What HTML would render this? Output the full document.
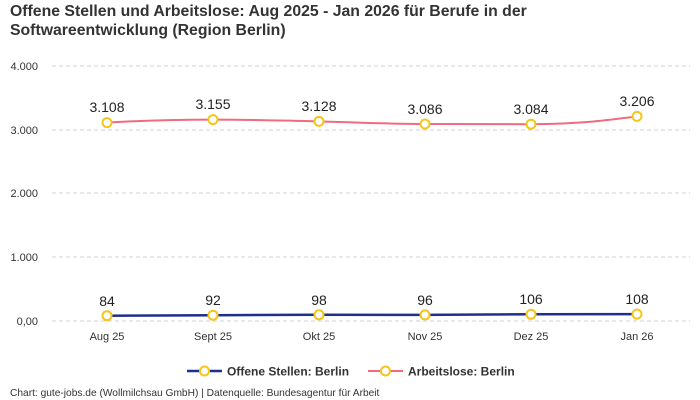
<!DOCTYPE html>
<html><head><meta charset="utf-8"><style>
body{margin:0;background:#fff;}
svg{display:block;font-family:"Liberation Sans",sans-serif;}
</style></head><body>
<svg width="700" height="400" viewBox="0 0 700 400">
<text x="10" y="16" font-size="15.8" font-weight="bold" fill="#333">Offene Stellen und Arbeitslose: Aug 2025 - Jan 2026 für Berufe in der</text>
<text x="10" y="35" font-size="15.8" font-weight="bold" fill="#333">Softwareentwicklung (Region Berlin)</text>
<g stroke="#d0d0d0" stroke-dasharray="4,3" stroke-width="1">
<line x1="52" y1="66" x2="690" y2="66"/><line x1="52" y1="130" x2="690" y2="130"/>
<line x1="52" y1="193" x2="690" y2="193"/><line x1="52" y1="257" x2="690" y2="257"/>
<line x1="52" y1="321" x2="690" y2="321"/></g>
<g font-size="11" fill="#333" text-anchor="end">
<text x="38" y="70">4.000</text><text x="38" y="134">3.000</text><text x="38" y="197">2.000</text><text x="38" y="261">1.000</text><text x="38" y="325">0,00</text></g>
<g font-size="11" fill="#333" text-anchor="middle">
<text x="107" y="340">Aug 25</text><text x="213" y="340">Sept 25</text><text x="319" y="340">Okt 25</text><text x="425" y="340">Nov 25</text><text x="531" y="340">Dez 25</text><text x="637" y="340">Jan 26</text></g>
<path d="M107,122.6 C150,120 180,119.6 213,119.6 C260,119.6 280,120.6 319,121.4 C360,122.5 390,124 425,124 C470,124.1 500,124.2 531,124.2 C580,124 610,120 637,116.4" fill="none" stroke="#f06b80" stroke-width="2"/>
<path d="M107,315.7 L213,315.2 L319,314.8 L425,314.9 L531,314.3 L637,314.1" fill="none" stroke="#1f2f8c" stroke-width="2.5"/>
<g fill="#fff" stroke="#f5c518" stroke-width="2">
<circle cx="107" cy="122.6" r="4.5"/><circle cx="213" cy="119.6" r="4.5"/><circle cx="319" cy="121.4" r="4.5"/><circle cx="425" cy="124" r="4.5"/><circle cx="531" cy="124.2" r="4.5"/><circle cx="637" cy="116.4" r="4.5"/>
<circle cx="107" cy="315.7" r="4.5"/><circle cx="213" cy="315.2" r="4.5"/><circle cx="319" cy="314.8" r="4.5"/><circle cx="425" cy="314.9" r="4.5"/><circle cx="531" cy="314.3" r="4.5"/><circle cx="637" cy="314.1" r="4.5"/></g>
<g font-size="14" fill="#222" text-anchor="middle">
<text x="107" y="112">3.108</text><text x="213" y="109">3.155</text><text x="319" y="111">3.128</text><text x="425" y="114">3.086</text><text x="531" y="114">3.084</text><text x="637" y="106">3.206</text>
<text x="107" y="306">84</text><text x="213" y="305">92</text><text x="319" y="305">98</text><text x="425" y="305">96</text><text x="531" y="304">106</text><text x="637" y="304">108</text></g>
<line x1="187" y1="371" x2="222" y2="371" stroke="#1f2f8c" stroke-width="2.5"/>
<circle cx="204.5" cy="371" r="4.5" fill="#fff" stroke="#f5c518" stroke-width="2"/>
<text x="227" y="375.5" font-size="12" font-weight="bold" fill="#333">Offene Stellen: Berlin</text>
<line x1="368" y1="371" x2="403" y2="371" stroke="#f06b80" stroke-width="2"/>
<circle cx="385.5" cy="371" r="4.5" fill="#fff" stroke="#f5c518" stroke-width="2"/>
<text x="408" y="375.5" font-size="12" font-weight="bold" fill="#333">Arbeitslose: Berlin</text>
<text x="10" y="396" font-size="10.2" fill="#333">Chart: gute-jobs.de (Wollmilchsau GmbH) | Datenquelle: Bundesagentur für Arbeit</text>
</svg>
</body></html>
